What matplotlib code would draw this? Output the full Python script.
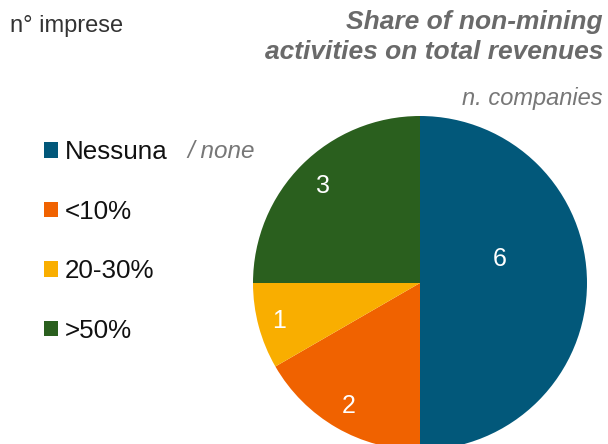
import numpy as np
import matplotlib.pyplot as plt

plt.rcParams['font.family'] = ['Liberation Sans', 'DejaVu Sans']

# dati
categorie = ['Nessuna', '<10%', '20-30%', '>50%']
n_imprese = [6, 2, 1, 3]
colori = ['#02587A', '#F06200', '#F9AE00', '#2A5F1E']

W, H = 608, 444
fig = plt.figure(figsize=(W / 100, H / 100), dpi=100)
ax = fig.add_axes([0, 0, 1, 1])

wedges, _ = ax.pie(n_imprese, colors=colori, startangle=90, counterclock=False,
                   center=(420, H - 283), radius=167, frame=True,
                   wedgeprops=dict(linewidth=0))
ax.set_xlim(0, W)
ax.set_ylim(0, H)
ax.set_aspect('equal')
ax.axis('off')

# etichette dentro le fette
tot = sum(n_imprese)
ang = 90
dist = [0.5, 0.85, 0.875, 0.82]
shift = [17, 0, 0, 0]   # la "6" e' spostata verso l'alto
for v, d, s in zip(n_imprese, dist, shift):
    mid = ang - 360 * v / tot / 2 + s
    ang -= 360 * v / tot
    x = 420 + 167 * d * np.cos(np.radians(mid))
    y = H - 283 + 167 * d * np.sin(np.radians(mid))
    ax.text(x, y, str(v), color='white', fontsize=18, ha='center', va='center')

leg = ax.legend(wedges, categorie, loc='upper left', bbox_to_anchor=(44 / W, 1 - 140 / H),
                frameon=False, fontsize=18.7, handlelength=0.54, handleheight=0.54,
                handletextpad=0.25, labelspacing=1.37, borderpad=0, borderaxespad=0)
for t in leg.get_texts():
    t.set_color('#111111')

fig.text(187 / W, 1 - 151 / H, '/ none', fontsize=17.5, style='italic', color='#777777',
         ha='left', va='center')
fig.text(10 / W, 1 - 26 / H, 'n° imprese', fontsize=17, color='#333333', ha='left', va='center')
fig.text(603 / W, 1 - 37 / H, 'Share of non-mining\nactivities on total revenues',
         fontsize=19, style='italic', weight='bold', color='#6a6a6a',
         ha='right', va='center', linespacing=1.32)
fig.text(603 / W, 1 - 98 / H, 'n. companies', fontsize=17, style='italic', color='#777777',
         ha='right', va='center')

fig.savefig('out.png', dpi=100)
